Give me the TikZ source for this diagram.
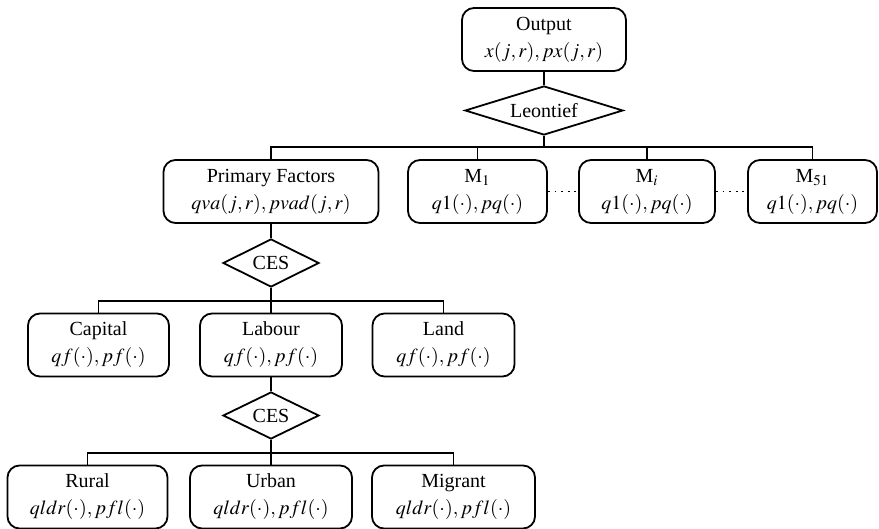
\documentclass[tikz,border=0pt]{standalone}
\usepackage{mathptmx}
\usepackage[no-math]{fontspec}
\setmainfont{Liberation Serif}
\usetikzlibrary{shapes.geometric, positioning}
\tikzset{
  box/.style     = {draw, rounded corners=6pt, line width=0.9pt, align=center,
                    inner sep=1pt, minimum height=31.5pt},
  nest/.style    = {draw, diamond, line width=0.9pt, inner sep=0pt},
  link/.style    = {line width=0.9pt},
  gap/.style     = {line width=0.9pt, dash pattern=on 0.9pt off 2.4pt},
}
\begin{document}
\begin{tikzpicture}[x=0.5pt,y=-0.5pt]
  \useasboundingbox (0,0) rectangle (879,529);
  % top nest
  \node[box, minimum width=82pt] (out) at (544,39.5) {Output\\[1.5pt]$x(j,r), px(j,r)$};
  \node[nest, aspect=3.2, minimum width=79pt, minimum height=24.5pt] (leon) at (544,110.5) {Leontief};
  \node[box, minimum width=107.5pt] (pf) at (271,191.5) {Primary Factors\\[1.5pt]$qva(j,r), pvad(j,r)$};
  \node[box, minimum width=69.5pt] (m1) at (477.5,191.5) {M$_1$\\[1.5pt]$q1(\cdot), pq(\cdot)$};
  \node[box, minimum width=68pt] (mi) at (647,191.5) {M$_i$\\[1.5pt]$q1(\cdot), pq(\cdot)$};
  \node[box, minimum width=64.5pt] (m51) at (812.5,191.5) {M$_{51}$\\[1.5pt]$q1(\cdot), pq(\cdot)$};
  \coordinate (b1) at (0,147);
  \draw[link] (out) -- (leon);
  \draw[link] (leon) -- (leon |- b1);
  \draw[link] (pf.north) |- (m51.north |- b1) -- (m51.north);
  \foreach \n in {m1,mi}
    \draw[link] (\n.north) -- (\n.north |- b1);
  \draw[gap] (m1) -- (mi);
  \draw[gap] (mi) -- (m51);
  % value added
  \node[nest, aspect=2, minimum width=48pt, minimum height=24pt] (ces1) at (271,263) {CES};
  \node[box, minimum width=70.5pt] (cap) at (98.5,345) {Capital\\[1.5pt]$qf(\cdot), pf(\cdot)$};
  \node[box, minimum width=71pt] (lab) at (271,345) {Labour\\[1.5pt]$qf(\cdot), pf(\cdot)$};
  \node[box, minimum width=71pt] (land) at (443.5,345) {Land\\[1.5pt]$qf(\cdot), pf(\cdot)$};
  \coordinate (b2) at (0,301);
  \draw[link] (pf) -- (ces1);
  \draw[link] (ces1) -- (ces1 |- b2);
  \draw[link] (cap.north) |- (land.north |- b2) -- (land.north);
  \draw[link] (lab.north) -- (lab.north |- b2);
  % labour types
  \node[nest, aspect=2, minimum width=48pt, minimum height=23.5pt] (ces2) at (271,415.5) {CES};
  \node[box, minimum width=80pt] (rur) at (87.5,497) {Rural\\[1.5pt]$qldr(\cdot), pfl(\cdot)$};
  \node[box, minimum width=81pt] (urb) at (271,497) {Urban\\[1.5pt]$qldr(\cdot), pfl(\cdot)$};
  \node[box, minimum width=81.5pt] (mig) at (453.5,497) {Migrant\\[1.5pt]$qldr(\cdot), pfl(\cdot)$};
  \coordinate (b3) at (0,453);
  \draw[link] (lab) -- (ces2);
  \draw[link] (ces2) -- (ces2 |- b3);
  \draw[link] (rur.north) |- (mig.north |- b3) -- (mig.north);
  \draw[link] (urb.north) -- (urb.north |- b3);
\end{tikzpicture}
\end{document}
